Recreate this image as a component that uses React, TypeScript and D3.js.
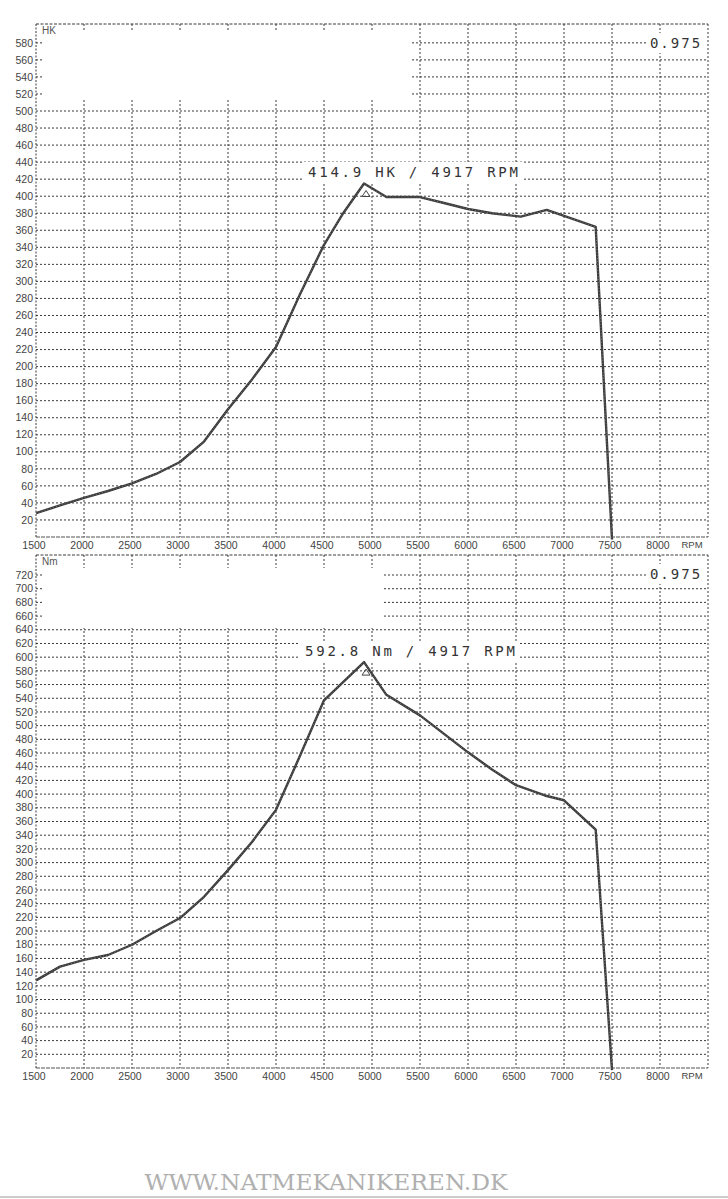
import React from "react";
import * as d3 from "d3";

// ---------- data ----------
const rpmTicks = [1500, 2000, 2500, 3000, 3500, 4000, 4500, 5000, 5500, 6000, 6500, 7000, 7500, 8000];
const hkTicks = [20, 40, 60, 80, 100, 120, 140, 160, 180, 200, 220, 240, 260, 280, 300, 320, 340, 360, 380, 400, 420, 440, 460, 480, 500, 520, 540, 560, 580];
const nmTicks = [20, 40, 60, 80, 100, 120, 140, 160, 180, 200, 220, 240, 260, 280, 300, 320, 340, 360, 380, 400, 420, 440, 460, 480, 500, 520, 540, 560, 580, 600, 620, 640, 660, 680, 700, 720];

const hkRpm = [1500, 1750, 2000, 2250, 2500, 2750, 3000, 3250, 3500, 3750, 4000, 4250, 4500, 4700, 4917, 5150, 5500, 5750, 6000, 6250, 6550, 6820, 7330, 7500];
const hkValues = [28, 37, 46, 54, 63, 74, 88, 112, 150, 185, 223, 285, 343, 380, 414.9, 399, 399, 392, 385, 380, 376, 384, 364, -3];

const nmRpm = [1500, 1750, 2000, 2250, 2500, 2750, 3000, 3250, 3500, 3750, 4000, 4250, 4500, 4917, 5150, 5500, 5750, 6000, 6250, 6500, 6800, 7000, 7330, 7500];
const nmValues = [128, 148, 158, 165, 180, 200, 219, 250, 289, 330, 377, 456, 537, 592.8, 545, 515, 488, 461, 436, 413, 398, 391, 348, -3];

const peakRpm = 4917;
const hkPeak = 414.9;
const nmPeak = 592.8;
const hkLabel = "414.9 HK / 4917 RPM";
const nmLabel = "592.8 Nm / 4917 RPM";
const corrLabel = "0.975";
const footerLabel = "WWW.NATMEKANIKEREN.DK";

// ---------- layout ----------
const W = 728;
const H = 1199;
const x = d3.scaleLinear().domain([1500, 8500]).range([36, 708]);

const GRID = "#3a3a3a";
const INK = "#3a3a3a";

type PanelProps = {
  top: number;
  bottom: number;
  yMax: number;
  yMaxPx: number;
  ticks: number[];
  rpm: number[];
  vals: number[];
  unit: string;
  peak: number;
  label: string;
  labelX: number;
  labelY: number;
  box: [number, number, number, number];
};

function Panel(p: PanelProps) {
  const y = d3.scaleLinear().domain([0, p.yMax]).range([p.bottom, p.yMaxPx]);
  const line = d3
    .line<number>()
    .x((_, i) => x(p.rpm[i]))
    .y((v) => y(v))
    .curve(d3.curveLinear);
  const left = x(1500);
  const right = x(8500);
  const path = line(p.vals) || "";
  const px = x(peakRpm);
  const py = y(p.peak);
  return (
    <g>
      {/* horizontal grid */}
      {p.ticks.map((t) => (
        <line key={"h" + t} x1={left} x2={right} y1={y(t)} y2={y(t)} stroke={GRID} strokeWidth={1} strokeDasharray="2,2" />
      ))}
      {/* vertical grid */}
      {rpmTicks.slice(1).map((t) => (
        <line key={"v" + t} x1={x(t)} x2={x(t)} y1={p.top} y2={p.bottom} stroke={GRID} strokeWidth={1} strokeDasharray="2,2" />
      ))}
      {/* frame */}
      <line x1={left} x2={right} y1={p.top} y2={p.top} stroke={GRID} strokeWidth={1} strokeDasharray="3,1.5" />
      <line x1={left} x2={left} y1={p.top} y2={p.bottom} stroke={GRID} strokeWidth={1} strokeDasharray="2,1.5" />
      <line x1={right} x2={right} y1={p.top} y2={p.bottom} stroke={GRID} strokeWidth={1} strokeDasharray="2,2" />
      <line x1={left} x2={right} y1={p.bottom} y2={p.bottom} stroke="#555" strokeWidth={1.2} strokeDasharray="4,1" />
      {/* white blanked box */}
      <rect x={p.box[0]} y={p.box[1]} width={p.box[2]} height={p.box[3]} fill="#fff" />
      {/* y tick labels */}
      {p.ticks.map((t) => (
        <text key={"yl" + t} x={33} y={y(t)} dy="0.35em" textAnchor="end" fontFamily="Liberation Sans, Arial, sans-serif" fontSize={10.5} fill="#444">
          {t}
        </text>
      ))}
      {/* x tick labels */}
      {rpmTicks.map((t) => (
        <text key={"xl" + t} x={x(t) - 2} y={p.bottom + 8} dy="0.35em" textAnchor="middle" fontFamily="Liberation Sans, Arial, sans-serif" fontSize={10.5} fill="#444">
          {t}
        </text>
      ))}
      <text x={692} y={p.bottom + 8} dy="0.35em" textAnchor="middle" fontFamily="Liberation Sans, Arial, sans-serif" fontSize={9.5} fill="#444">
        RPM
      </text>
      <text x={42} y={p.top + 6} dy="0.35em" fontFamily="Liberation Sans, Arial, sans-serif" fontSize={10} fill="#555">
        {p.unit}
      </text>
      {/* correction factor */}
      <rect x={646} y={p.top + 9} width={60} height={20} fill="#fff" />
      <text x={676} y={p.top + 19} dy="0.35em" textAnchor="middle" fontFamily="DejaVu Sans Mono, monospace" fontSize={14} letterSpacing={2} fill="#333">
        {corrLabel}
      </text>
      {/* peak label */}
      <rect x={p.labelX - 110} y={p.labelY - 10} width={220} height={20} fill="#fff" />
      <text x={p.labelX} y={p.labelY} dy="0.35em" textAnchor="middle" fontFamily="DejaVu Sans Mono, monospace" fontSize={14} textLength={210} lengthAdjust="spacing" fill="#333">
        {p.label}
      </text>
      {/* curve */}
      <path d={path} fill="none" stroke={INK} strokeWidth={2.4} strokeLinejoin="round" />
      <path d={path} fill="none" stroke="#888" strokeWidth={0.8} strokeDasharray="1,2" />
      {/* peak marker */}
      <path d={`M${px + 2},${py + 7} L${px + 6},${py + 13} L${px - 2},${py + 13} Z`} fill="none" stroke="#444" strokeWidth={1} />
    </g>
  );
}

export default function App() {
  return (
    <svg width={W} height={H} viewBox={`0 0 ${W} ${H}`} style={{ position: "absolute", left: 0, top: 0, background: "#fff" }}>
      <rect x={0} y={0} width={W} height={H} fill="#fff" />
      <Panel
        top={24}
        bottom={537}
        yMax={580}
        yMaxPx={537 - 580 * 0.852}
        ticks={hkTicks}
        rpm={hkRpm}
        vals={hkValues}
        unit="HK"
        peak={hkPeak}
        label={hkLabel}
        labelX={413}
        labelY={172}
        box={[44, 30, 366, 70]}
      />
      <Panel
        top={555}
        bottom={1068}
        yMax={720}
        yMaxPx={575}
        ticks={nmTicks}
        rpm={nmRpm}
        vals={nmValues}
        unit="Nm"
        peak={nmPeak}
        label={nmLabel}
        labelX={410}
        labelY={651}
        box={[44, 568, 339, 60]}
      />
      <text x={326} y={1182} dy="0.35em" textAnchor="middle" fontFamily="DejaVu Serif, serif" fontSize={22} textLength={363} lengthAdjust="spacingAndGlyphs" fill="#b0b0b0">
        {footerLabel}
      </text>
      <line x1={0} x2={W} y1={1197} y2={1197} stroke="#ccc" strokeWidth={2} />
    </svg>
  );
}
